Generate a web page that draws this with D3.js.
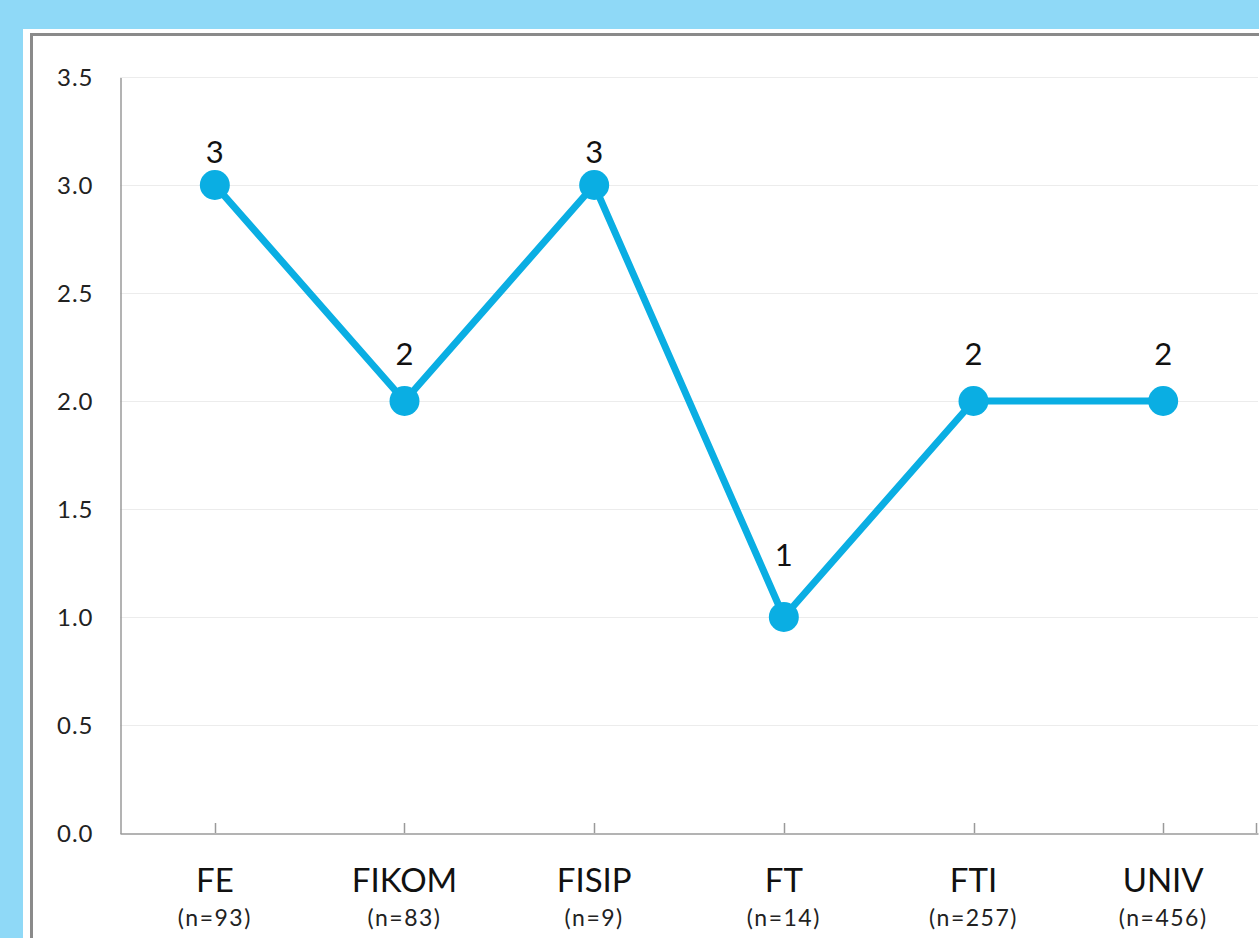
<!DOCTYPE html>
<html>
<head>
<meta charset="utf-8">
<script src="https://cdn.jsdelivr.net/npm/d3@7"></script>
<style>
  body { margin: 0; background: #8fd9f7; overflow: hidden; }
  svg { display: block; font-family: Lato, "Open Sans", sans-serif; }
</style>
</head>
<body>
<div id="chart"></div>
<script>
// data
const categories = ["FE", "FIKOM", "FISIP", "FT", "FTI", "UNIV"],
    sampleSizes = ["(n=93)", "(n=83)", "(n=9)", "(n=14)", "(n=257)", "(n=456)"],
    values = [3, 2, 3, 1, 2, 2],
    yTicks = [0, 0.5, 1, 1.5, 2, 2.5, 3, 3.5];

const width = 1259, height = 938,
    margin = { top: 77, left: 120, right: 1, bottom: 105 },
    lineColor = "#0aaee3";

const svg = d3.select("#chart")
    .append("svg")
    .attr("width", width)
    .attr("height", height);

// white chart card with gray frame
svg.append("rect")
    .attr("x", 23).attr("y", 29)
    .attr("width", width).attr("height", height)
    .attr("fill", "#fff");
svg.append("rect")
    .attr("x", 31.5).attr("y", 34.5)
    .attr("width", width).attr("height", height)
    .attr("fill", "none")
    .attr("stroke", "#8a8a8a")
    .attr("stroke-width", 3);

const plotRight = 1258, plotBottom = height - margin.bottom;

const xScale = d3.scaleBand()
    .domain(categories)
    .range([margin.left, plotRight]);

const yScale = d3.scaleLinear()
    .domain([0, 3.5])
    .range([plotBottom, margin.top]);

// label gap above the marker grows for lower points (as in the source)
const labelGap = d3.scaleLinear().domain([3, 1]).range([22, 51]);

// gridlines
svg.append("g")
    .selectAll("line")
    .data(yTicks.slice(1))
    .join("line")
    .attr("x1", margin.left).attr("x2", plotRight)
    .attr("y1", d => yScale(d) + 0.5).attr("y2", d => yScale(d) + 0.5)
    .attr("stroke", "#ececec")
    .attr("stroke-width", 1);

// y axis
const yAxis = svg.append("g")
    .attr("transform", `translate(${margin.left + 0.5},0.5)`)
    .call(d3.axisLeft(yScale).tickValues(yTicks).tickFormat(d3.format(".1f")).tickSize(0).tickPadding(27));
yAxis.select(".domain").attr("stroke", "#9a9a9a").attr("stroke-width", 1.5);
yAxis.selectAll("text")
    .attr("font-size", 24)
    .attr("letter-spacing", 1)
    .attr("fill", "#222")
    .attr("font-family", "Lato, sans-serif");

// x axis
const xAxis = svg.append("g")
    .attr("transform", `translate(0,${plotBottom + 0.5})`)
    .call(d3.axisBottom(xScale).tickSize(0).tickFormat(""));
xAxis.select(".domain").attr("stroke", "#9a9a9a").attr("stroke-width", 1.5);

// small upward tick marks at category centres and at plot end
const tickXs = categories.map(c => xScale(c) + xScale.bandwidth() / 2).concat([plotRight - 2]);
svg.append("g")
    .selectAll("line")
    .data(tickXs)
    .join("line")
    .attr("x1", d => Math.round(d) + 0.5).attr("x2", d => Math.round(d) + 0.5)
    .attr("y1", plotBottom).attr("y2", plotBottom - 10)
    .attr("stroke", "#9a9a9a")
    .attr("stroke-width", 1.5);

// category labels
const catG = svg.append("g")
    .selectAll("g")
    .data(categories)
    .join("g")
    .attr("transform", d => `translate(${xScale(d) + xScale.bandwidth() / 2},0)`);
catG.append("text")
    .attr("y", 892)
    .attr("text-anchor", "middle")
    .attr("font-size", 33)
    .attr("fill", "#111")
    .text(d => d);
catG.append("text")
    .attr("y", 926)
    .attr("text-anchor", "middle")
    .attr("font-size", 23)
    .attr("letter-spacing", 1.5)
    .attr("fill", "#222")
    .text((d, i) => sampleSizes[i]);

// line
const points = categories.map((c, i) => ({ cat: c, value: values[i] }));
const line = d3.line()
    .x(d => xScale(d.cat) + xScale.bandwidth() / 2)
    .y(d => yScale(d.value));

svg.append("path")
    .datum(points)
    .attr("d", line)
    .attr("fill", "none")
    .attr("stroke", lineColor)
    .attr("stroke-width", 7)
    .attr("stroke-linejoin", "round");

svg.append("g")
    .selectAll("circle")
    .data(points)
    .join("circle")
    .attr("cx", d => xScale(d.cat) + xScale.bandwidth() / 2)
    .attr("cy", d => yScale(d.value))
    .attr("r", 15)
    .attr("fill", lineColor);

// data labels
svg.append("g")
    .selectAll("text")
    .data(points)
    .join("text")
    .attr("x", d => xScale(d.cat) + xScale.bandwidth() / 2)
    .attr("y", d => yScale(d.value) - labelGap(d.value))
    .attr("text-anchor", "middle")
    .attr("font-size", 31)
    .attr("fill", "#111")
    .text(d => d.value);
</script>
</body>
</html>
